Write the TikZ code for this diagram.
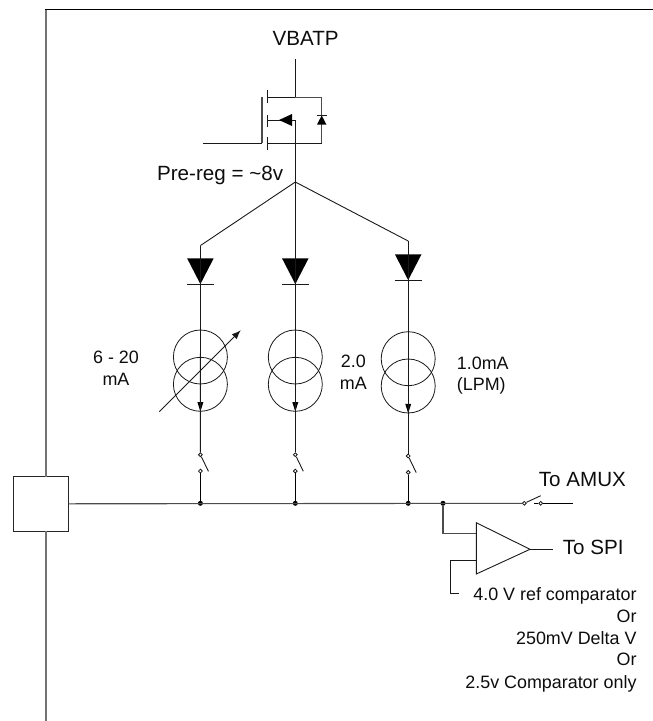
\documentclass[tikz,border=0pt]{standalone}
\usepackage{fontspec}
\setmainfont{Liberation Sans}
\usetikzlibrary{arrows.meta}
\tikzset{
  wire/.style={line width=0.9pt,black!90},
  railwire/.style={line width=1.8pt,black!55},
  topwire/.style={line width=1.1pt,black},
  graywire/.style={line width=1.1pt,black!70},
  biglabel/.style={inner sep=0pt,font=\fontsize{20.6}{24}\selectfont,text=black!95},
  smalllabel/.style={inner sep=0pt,font=\fontsize{17.9}{22}\selectfont,text=black!95},
  coilring/.style={circle,draw=black!90,line width=0.8pt,minimum size=54pt,inner sep=0pt},
  contact/.style={circle,draw=black!90,fill=white,line width=0.8pt,minimum size=3.8pt,inner sep=0pt},
  junction/.style={circle,fill=black,minimum size=5pt,inner sep=0pt},
  solidtip/.style={fill=black,draw=none},
  padbox/.style={draw=black!85,fill=white,line width=0.9pt,minimum width=54.7pt,minimum height=54.3pt,inner sep=0pt},
}
\begin{document}
\begin{tikzpicture}[x=1pt,y=-1pt]
\useasboundingbox (0,0) rectangle (653,721);
% frame and pad
\node[padbox] (pad) at (40.7,503.8) {};
\coordinate (railtop) at (45.7,9.3);
\coordinate (railbot) at (45.7,721);
\coordinate (topend) at (653,9.3);
\draw[railwire] (railtop) -- (45.7,476.7);
\draw[railwire] (45.7,531) -- (railbot);
\draw[topwire] (45,9.3) -- (topend);
% MOSFET
\coordinate (vtop) at (295.3,59);
\coordinate (src) at (295.3,97.3);
\coordinate (srcL) at (267.5,97.3);
\coordinate (srcR) at (321.7,97.3);
\coordinate (drnL) at (267.5,143);
\coordinate (drnR) at (321.7,143);
\coordinate (drn) at (295.3,143);
\coordinate (gateIn) at (203,143);
\coordinate (gateB) at (262,143);
\coordinate (gateT) at (262,97);
\coordinate (bodyL) at (267.5,120);
\coordinate (body) at (295.3,120);
\coordinate (apex) at (295.3,182);
\draw[wire] (vtop) -- (src);
\draw[wire] (srcL) -- (src);
\draw[graywire] (src) -- (srcR) -- (drnR);
\draw[wire] (drnR) -- (drnL);
\draw[wire] (gateIn) -- (gateB);
\draw[graywire] (gateB) -- (gateT);
\draw[wire] (267.5,90) -- (267.5,103);
\draw[wire] (267.5,115) -- (267.5,127);
\draw[wire] (267.5,137) -- (267.5,150);
\draw[wire] (bodyL) -- (body) -- (apex);
\fill[solidtip] (279,120) -- (292,114) -- (292,126) -- cycle;
\fill[solidtip] (321.7,115.5) -- (317,124.5) -- (326.4,124.5) -- cycle;
\draw[wire] (316.7,115.5) -- (326.7,115.5);
% labels on top
\node[biglabel,anchor=base] (vbatp) at (305.7,45.7) {VBATP};
\node[biglabel,anchor=base east] (prereg) at (283.3,180) {Pre-reg = {\char`\~}8v};
% branches
\coordinate (cornerL) at (200.5,245.5);
\coordinate (cornerR) at (408.2,241);
\draw[wire] (apex) -- (cornerL);
\draw[wire] (apex) -- (cornerR);
% Branch geometry
\newcommand{\branch}[6]{%
  % #1 name, #2 x, #3 wire start, #4 diode top, #5 ring1 y, #6 sw y
  \pgfmathsetmacro{\tipy}{#4+25.8}
  \pgfmathsetmacro{\ringb}{#5+27.3}
  \pgfmathsetmacro{\arrtip}{#5+54.6}
  \fill[solidtip] (#2-13.3,#4) -- (#2+13.3,#4) -- (#2,\tipy) -- cycle;
  \draw[wire] (#2-13.3,\tipy) -- (#2+13.3,\tipy);
  \node[coilring] (#1a) at (#2,#5) {};
  \node[coilring] (#1b) at (#2,\ringb) {};
  \fill[solidtip] (#2,\arrtip) -- (#2-3,\arrtip-9.5) -- (#2+3,\arrtip-9.5) -- cycle;
  \node[contact] (#1u) at (#2,#6) {};
  \node[contact] (#1l) at (#2,#6+16.4) {};
  \node[junction] (#1j) at (#2,503.3) {};
  \draw[wire] (#3) -- (#1u);
  \draw[wire] (#1u) -- (#2+8,#6+16.6);
  \draw[line width=1.1pt,black] (#1l) -- (#1j);
}
\branch{L}{200.4}{cornerL}{258.3}{357}{454.7}
\branch{M}{295.3}{apex}{258.3}{357}{454.7}
\branch{R}{408.2}{cornerR}{254.3}{358.7}{456}
% variable arrow
\coordinate (varA) at (159.3,411.7);
\coordinate (varB) at (240.7,330.3);
\draw[wire,-{Latex[length=9pt,width=7pt]}] (varA) -- (varB);
% current labels
\node[smalllabel,anchor=base] (l1a) at (116,363.3) {6 - 20};
\node[smalllabel,anchor=base] (l1b) at (116,385) {mA};
\node[smalllabel,anchor=base] (l2a) at (353.3,367) {2.0};
\node[smalllabel,anchor=base] (l2b) at (353.3,389) {mA};
\node[smalllabel,anchor=base west] (l3a) at (456.7,369) {1.0mA};
\node[smalllabel,anchor=base west] (l3b) at (456.7,390) {(LPM)};
% bus
\node[junction] (tap) at (443,503.3) {};
\node[contact] (amuxa) at (524.3,503.3) {};
\node[contact] (amuxb) at (540.7,503.3) {};
\coordinate (amuxend) at (573.3,503.3);
\coordinate (amuxstub) at (534.3,503.3);
\draw[graywire] (pad.east) -- (amuxa);
\draw[wire] (amuxa) -- (540.7,495.7);
\draw[topwire] (amuxstub) -- (amuxb);
\draw[topwire] (amuxb) -- (amuxend);
\node[biglabel,anchor=base west] (amux) at (538.7,486.7) {To AMUX};
% comparator
\coordinate (triA) at (476.3,522.7);
\coordinate (triB) at (476.3,574);
\coordinate (triC) at (530,549.3);
\draw[wire,line join=miter] (triA) -- (triB) -- (triC) -- cycle;
\coordinate (inP) at (476.3,533.3);
\coordinate (inN) at (476.3,560.3);
\coordinate (outEnd) at (552.7,549.3);
\draw[graywire] (tap) |- (inP);
\draw[wire] (inN) -- (450.3,560.3) |- (459.3,593.7);
\draw[wire] (triC) -- (outEnd);
\node[biglabel,anchor=base west] (spi) at (562.7,554) {To SPI};
% notes
\node[smalllabel,anchor=base east] (n1) at (636.7,600.7) {4.0 V ref comparator};
\node[smalllabel,anchor=base east] (n2) at (636.7,622.3) {Or};
\node[smalllabel,anchor=base east] (n3) at (636.7,644.7) {250mV Delta V};
\node[smalllabel,anchor=base east] (n4) at (636.7,665.7) {Or};
\node[smalllabel,anchor=base east] (n5) at (636.7,688.3) {2.5v Comparator only};
\end{tikzpicture}
\end{document}
